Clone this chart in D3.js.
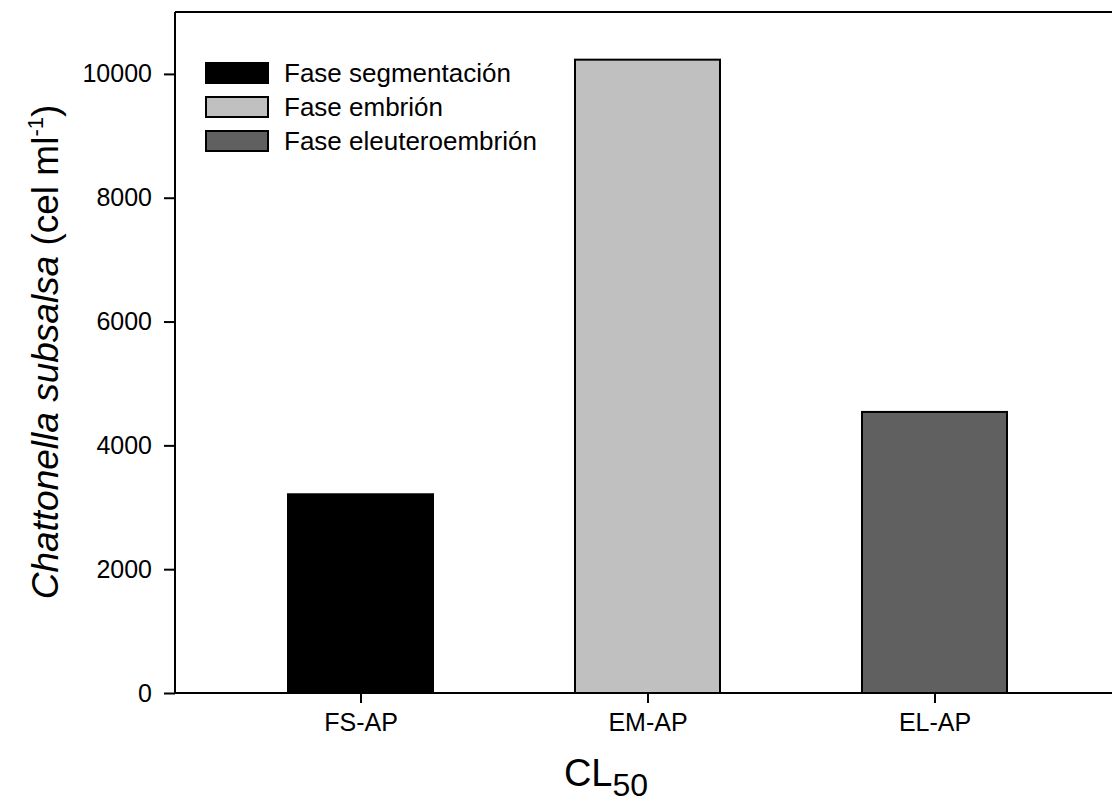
<!DOCTYPE html>
<html>
<head>
<meta charset="utf-8">
<script src="https://cdn.jsdelivr.net/npm/d3@7"></script>
<style>
  html, body { margin: 0; padding: 0; background: #fff; }
  svg { display: block; font-family: "Liberation Sans", Arial, sans-serif; }
</style>
</head>
<body>
<svg id="chart" width="1112" height="804"></svg>
<script>
const categories = ["FS-AP", "EM-AP", "EL-AP"];
const values = [3210, 10230, 4540];
const seriesNames = ["Fase segmentación", "Fase embrión", "Fase eleuteroembrión"];
const colors = ["#000000", "#c0c0c0", "#606060"];
const yTicks = [0, 2000, 4000, 6000, 8000, 10000];

const svg = d3.select("#chart");
const plotLeft = 175, plotRight = 1112, plotTop = 12, plotBottom = 693;

const y = d3.scaleLinear().domain([0, 11000]).range([plotBottom, plotTop]);
const x = d3.scaleLinear().domain([1, 3]).range([360.5, 934.5]);
const barW = 145;

svg.append("g").selectAll("rect").data(values).join("rect")
  .attr("x", (d, i) => x(i + 1) - barW / 2)
  .attr("y", d => y(d))
  .attr("width", barW)
  .attr("height", d => y(0) - y(d))
  .attr("fill", (d, i) => colors[i])
  .attr("stroke", "#000")
  .attr("stroke-width", 2);

const yAxis = d3.axisLeft(y).tickValues(yTicks).tickSize(11).tickPadding(12).tickFormat(d3.format("d"));
const gy = svg.append("g").attr("transform", `translate(${plotLeft},0)`).call(yAxis);
gy.select(".domain").attr("d", `M0,${plotBottom}V${plotTop}`).attr("stroke-width", 2);
gy.selectAll(".tick line").attr("stroke-width", 2);
gy.selectAll(".tick text").attr("font-size", 25).attr("font-family", "Liberation Sans, Arial, sans-serif").attr("fill", "#000");

const xAxis = d3.axisBottom(x).tickValues([1, 2, 3]).tickSize(10).tickPadding(10).tickFormat((d) => categories[d - 1]);
const gx = svg.append("g").attr("transform", `translate(0,${plotBottom})`).call(xAxis);
gx.select(".domain").attr("d", `M${plotLeft},0H${plotRight}`).attr("stroke-width", 2);
gx.selectAll(".tick line").attr("stroke-width", 2);
gx.selectAll(".tick text").attr("font-size", 25).attr("font-family", "Liberation Sans, Arial, sans-serif").attr("fill", "#000");

svg.append("line").attr("x1", plotLeft).attr("x2", plotRight).attr("y1", plotTop).attr("y2", plotTop)
  .attr("stroke", "#000").attr("stroke-width", 2);

const leg = svg.append("g");
seriesNames.forEach((name, i) => {
  const ly = 63 + i * 34;
  leg.append("rect").attr("x", 206).attr("y", ly).attr("width", 62).attr("height", 20)
    .attr("fill", colors[i]).attr("stroke", "#000").attr("stroke-width", 2);
  leg.append("text").attr("x", 284).attr("y", ly + 19).attr("font-size", 26).text(name);
});

const yt = svg.append("text")
  .attr("transform", "translate(58,352) rotate(-90)")
  .attr("text-anchor", "middle").attr("font-size", 37);
yt.append("tspan").attr("font-style", "italic").text("Chattonella subsalsa");
yt.append("tspan").text(" (cel ml");
yt.append("tspan").attr("font-size", 22).attr("dy", -15).text("-1");
yt.append("tspan").attr("dy", 15).text(")");

const xt = svg.append("text").attr("x", 606).attr("y", 786).attr("text-anchor", "middle").attr("font-size", 38);
xt.append("tspan").text("CL");
xt.append("tspan").attr("font-size", 32).attr("dy", 10).text("50");
</script>
</body>
</html>
